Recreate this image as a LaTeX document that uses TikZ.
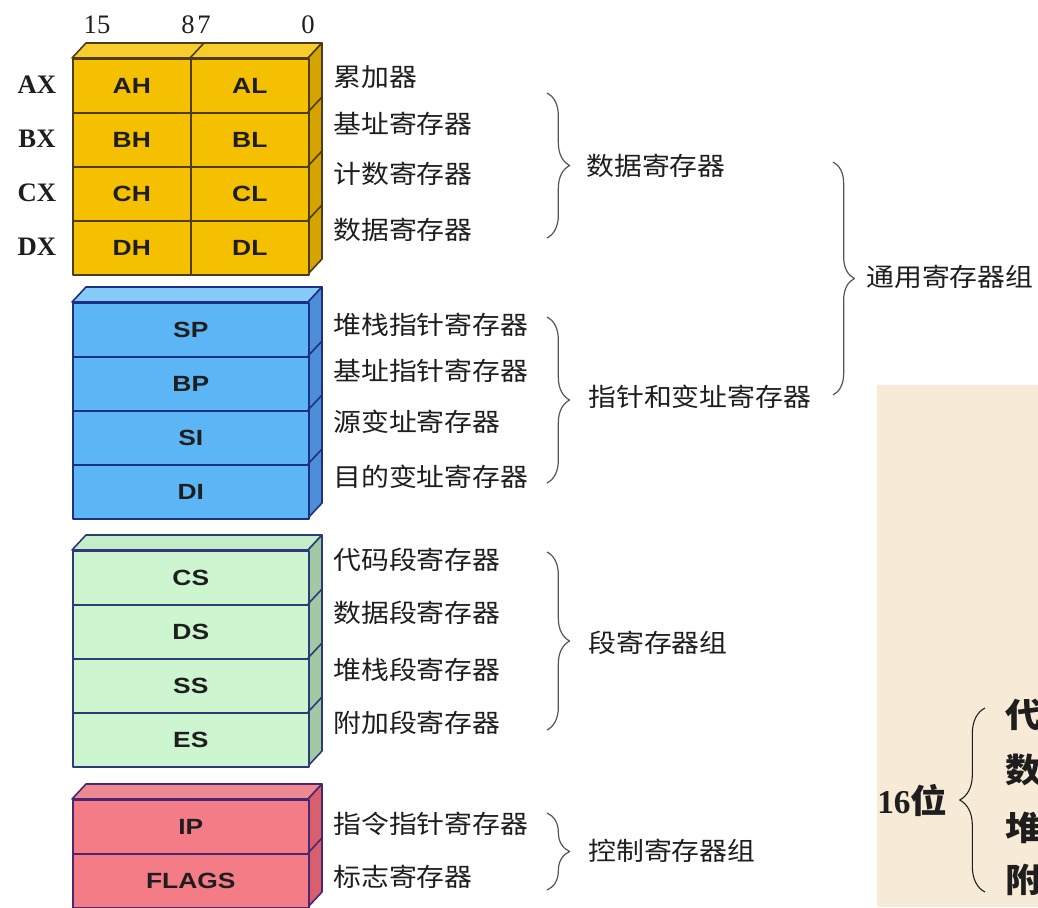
\documentclass[tikz,border=0pt]{standalone}
\usepackage{fontspec}
\setmainfont{Liberation Serif}
\newfontfamily\cjk[FakeStretch=1.1]{Noto Sans CJK SC}
\newfontfamily\regsans[FakeStretch=1.2]{Liberation Sans}
\usepackage{xcolor}
\usetikzlibrary{positioning,decorations.pathreplacing}
\definecolor{ink}{HTML}{1E1E1E}
\definecolor{braceGray}{HTML}{555555}
\definecolor{paper}{HTML}{F7EAD6}
\definecolor{rGold}{HTML}{F5C000}
\definecolor{rGoldTop}{HTML}{F8CC2C}
\definecolor{rGoldSide}{HTML}{D6A400}
\definecolor{rGoldEdge}{HTML}{4E3C12}
\definecolor{rSky}{HTML}{5CB6F5}
\definecolor{rSkyTop}{HTML}{86CBF7}
\definecolor{rSkySide}{HTML}{4C8FD8}
\definecolor{rSkyEdge}{HTML}{1F2F86}
\definecolor{rMint}{HTML}{CDF5D0}
\definecolor{rMintTop}{HTML}{C4EEC8}
\definecolor{rMintSide}{HTML}{A0C9A4}
\definecolor{rMintEdge}{HTML}{2E3A7A}
\definecolor{rRose}{HTML}{F47C87}
\definecolor{rRoseTop}{HTML}{EE8892}
\definecolor{rRoseSide}{HTML}{D8606E}
\definecolor{rRoseEdge}{HTML}{4A2770}
\tikzset{
  half/.style={rectangle, line width=1.2pt, inner sep=0pt, anchor=north west, minimum width=88.5pt, minimum height=40.5pt, font=\regsans\bfseries\fontsize{16.5}{18}\selectfont, text=ink},
  full/.style={half, minimum width=177pt},
  lbl/.style={anchor=west, font=\cjk\fontsize{19}{21}\selectfont, text=ink, inner sep=0pt},
  bitno/.style={font=\fontsize{20}{22}\selectfont, text=ink, inner sep=0pt},
  xlbl/.style={font=\bfseries\fontsize{20}{22}\selectfont, text=ink, inner sep=0pt},
  curly/.style={decorate, decoration={brace, amplitude=17pt}, draw=braceGray, line width=0.9pt},
}
\begin{document}
\begin{tikzpicture}[x=0.75pt, y=-0.75pt, line join=round]
\fill[white] (0,0) rectangle (1038,907);
\useasboundingbox (0,0) rectangle (1038,907);
% bit positions
\node[bitno] (b15) at (97,25) {15};
\node[bitno] (b8) at (188,25) {8};
\node[bitno] (b7) at (204,25) {7};
\node[bitno] (b0) at (308,25) {0};
% top and side faces of the four blocks
\foreach \yt/\yb/\c in {58/274/rGold, 302/518/rSky, 550/766/rMint, 799/907/rRose}{
  \filldraw[fill=\c Top, draw=\c Edge, line width=1.2pt] (72,\yt) -- (86,\yt-15) -- (322,\yt-15) -- (308,\yt) -- cycle;
  \filldraw[fill=\c Side, draw=\c Edge, line width=1.2pt] (308,\yt) -- (322,\yt-15) -- (322,\yb-15) -- (308,\yb) -- cycle;
}
\draw[rGoldEdge, line width=1.2pt] (190,58) -- (204,43);
% general registers
\foreach \r [count=\k from 0] in {A,B,C,D}{
  \node[half, fill=rGold, draw=rGoldEdge] (\r H) at (72,58+54*\k) {\r H};
  \node[half, fill=rGold, draw=rGoldEdge] (\r L) at (190,58+54*\k) {\r L};
  \node[xlbl] (\r X) at (37,85+54*\k) {\r X};
}
\foreach \r [count=\k from 0] in {SP,BP,SI,DI}
  \node[full, fill=rSky, draw=rSkyEdge] (\r) at (72,302+54*\k) {\r};
\foreach \r [count=\k from 0] in {CS,DS,SS,ES}
  \node[full, fill=rMint, draw=rMintEdge] (\r) at (72,550+54*\k) {\r};
\foreach \r [count=\k from 0] in {IP,FLAGS}
  \node[full, fill=rRose, draw=rRoseEdge] (\r) at (72,799+54*\k) {\r};
% row lines on the side faces
\foreach \y in {112,166,220} \draw[rGoldEdge, line width=1.2pt] (308,\y) -- (322,\y-15);
\foreach \y in {356,410,464} \draw[rSkyEdge, line width=1.2pt] (308,\y) -- (322,\y-15);
\foreach \y in {604,658,712} \draw[rMintEdge, line width=1.2pt] (308,\y) -- (322,\y-15);
\draw[rRoseEdge, line width=1.2pt] (308,853) -- (322,838);
% names
\foreach \t/\y [count=\k] in {累加器/77, 基址寄存器/124, 计数寄存器/174, 数据寄存器/230}
  \node[lbl] (d\k) at (333,\y) {\t};
\foreach \t/\y [count=\k] in {堆栈指针寄存器/325, 基址指针寄存器/371, 源变址寄存器/422, 目的变址寄存器/477}
  \node[lbl] (p\k) at (333,\y) {\t};
\foreach \t/\y [count=\k] in {代码段寄存器/560, 数据段寄存器/613, 堆栈段寄存器/670, 附加段寄存器/723}
  \node[lbl] (s\k) at (333,\y) {\t};
\foreach \t/\y [count=\k] in {指令指针寄存器/824, 标志寄存器/877}
  \node[lbl] (c\k) at (333,\y) {\t};
% groups
\coordinate (dTop) at (547,93); \coordinate (dBot) at (547,238);
\draw[curly] (dTop) -- (dBot);
\node[lbl] (dGrp) at (586,166) {数据寄存器};
\coordinate (pTop) at (547,317); \coordinate (pBot) at (547,483);
\draw[curly] (pTop) -- (pBot);
\node[lbl] (pGrp) at (588,397) {指针和变址寄存器};
\coordinate (sTop) at (547,552); \coordinate (sBot) at (547,730);
\draw[curly] (sTop) -- (sBot);
\node[lbl] (sGrp) at (588,643) {段寄存器组};
\coordinate (cTop) at (547,813); \coordinate (cBot) at (547,890);
\draw[curly] (cTop) -- (cBot);
\node[lbl] (cGrp) at (588,851) {控制寄存器组};
\coordinate (gTop) at (833,162); \coordinate (gBot) at (833,395);
\draw[curly, decoration={amplitude=16pt}] (gTop) -- (gBot);
\node[lbl] (gGrp) at (866,277) {通用寄存器组};
% clipped page in the corner
\fill[paper] (877,385) rectangle (1038,907);
\node[anchor=west, inner sep=0pt, text=ink, font=\bfseries\fontsize{25}{27}\selectfont] (w16) at (877,800) {16{\cjk 位}};
\coordinate (iBot) at (985,892); \coordinate (iTop) at (985,708);
\draw[curly, draw=ink, line width=0.8pt, decoration={amplitude=19pt}] (iBot) -- (iTop);
\begin{scope}
\clip (877,385) rectangle (1038,907);
\foreach \t/\y [count=\k] in {代/715, 数/770, 堆/828, 附/880}
  \node[anchor=west, inner sep=0pt, text=ink, font=\cjk\bfseries\fontsize{25}{27}\selectfont] (i\k) at (1005,\y) {\t};
\end{scope}
\end{tikzpicture}
\end{document}
